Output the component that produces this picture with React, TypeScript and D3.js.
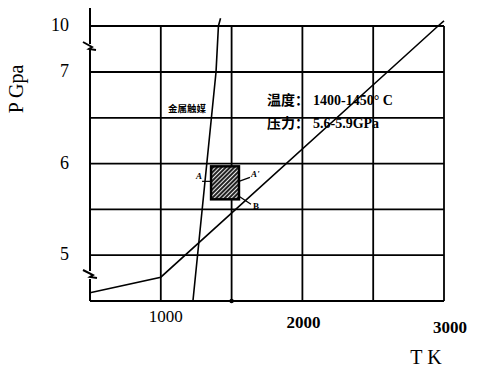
//@ts-nocheck
import * as d3 from "d3";

// grid values
const tGrid = [500, 1000, 1500, 2000, 2500, 3000];
const tLabels = [1000, 2000, 3000];
const pGrid = [4.5, 5, 5.5, 6, 6.5, 7, 10];
const pLabels = [5, 6, 7, 10];

// graphite–diamond equilibrium line (T K, P GPa)
const eqLine = [[500, 4.59], [1000, 4.76], [2600, 7.0], [2958, 10.0], [3000, 10.33]];
// metal catalyst melting line
const catalystLine = [[1227, 4.5], [1390, 7.0], [1407, 10.0], [1422, 10.5]];
// synthesis window
const boxT = [1355, 1552];
const boxP = [5.61, 5.97];

const W = 477;
const H = 371;

const App = () => {
  const x = d3.scaleLinear().domain([500, 3000]).range([90, 444]);
  // broken axis: 4.5..7 then jump to 10
  const y = d3.scaleLinear().domain([4.5, 7, 10]).range([301, 72, 26]);

  const line = d3.line().x(d => x(d[0])).y(d => y(d[1]));

  const bx0 = x(boxT[0]), bx1 = x(boxT[1]);
  const by0 = y(boxP[1]), by1 = y(boxP[0]);

  const serif = "Liberation Serif, DejaVu Serif, serif";
  const cjk = "Noto Sans CJK SC, sans-serif";

  return (
    <svg width={W} height={H} style={{ position: "absolute", left: 0, top: 0, background: "#fff" }}>
      <defs>
        <pattern id="hatch" width="3" height="3" patternUnits="userSpaceOnUse" patternTransform="rotate(45)">
          <rect width="3" height="3" fill="#222" />
          <line x1="0.5" y1="0" x2="0.5" y2="3" stroke="#fff" strokeWidth="0.9" />
        </pattern>
      </defs>

      {/* grid */}
      <g stroke="#000" strokeWidth={1.8}>
        {pGrid.map(p => (
          <line key={"p" + p} x1={x(500)} x2={x(3000)} y1={y(p)} y2={y(p)} />
        ))}
        {tGrid.slice(1).map(t => (
          <line key={"t" + t} x1={x(t)} x2={x(t)} y1={y(10)} y2={y(4.5)} />
        ))}
      </g>

      {/* left axis with break marks */}
      <path
        d={`M90,8 V44 M83,42 L92,47 L89,49 L96,50 M90,49 V271 M83,270 L93,275 L90,277 L97,278 M90,279 V301`}
        fill="none" stroke="#000" strokeWidth={2}
      />
      <circle cx={x(1500)} cy={y(4.5)} r={2.2} fill="#000" />

      {/* curves */}
      <path d={line(eqLine)} fill="none" stroke="#000" strokeWidth={1.6} />
      <path d={line(catalystLine)} fill="none" stroke="#000" strokeWidth={1.6} />

      {/* synthesis box */}
      <rect x={bx0} y={by0} width={bx1 - bx0} height={by1 - by0} fill="url(#hatch)" stroke="#000" strokeWidth={2.5} />
      <g stroke="#000" strokeWidth={1.2}>
        <line x1={bx0 - 9} y1={by0 + 15} x2={bx0} y2={by0 + 15} />
        <line x1={bx1} y1={by0 + 15} x2={bx1 + 11} y2={by0 + 11} />
        <line x1={bx1} y1={by1 - 3} x2={bx1 + 12} y2={by1 + 5} />
      </g>
      <g fontFamily={serif} fontSize={9} fontWeight="bold" fontStyle="italic">
        <text x={bx0 - 15} y={by0 + 13}>A</text>
        <text x={bx1 + 12} y={by0 + 11}>A'</text>
        <text x={bx1 + 14} y={by1 + 10} fontStyle="normal">B</text>
      </g>

      {/* annotations */}
      <text x={168} y={112} fontFamily={cjk} fontSize={9.5} fontWeight="bold">金属触媒</text>
      <text x={267} y={105} fontSize={14} fontWeight="bold">
        <tspan fontFamily={cjk}>温度：</tspan>
        <tspan x={313} fontFamily={serif}>1400-1450° C</tspan>
      </text>
      <text x={267} y={128} fontSize={14} fontWeight="bold">
        <tspan fontFamily={cjk}>压力：</tspan>
        <tspan x={313} fontFamily={serif}>5.6-5.9GPa</tspan>
      </text>

      {/* y tick labels */}
      <g fontFamily={serif} fontSize={18} textAnchor="end" dominantBaseline="middle">
        {pLabels.map(p => (
          <text key={p} x={69} y={y(p) + 1}>{p}</text>
        ))}
      </g>
      {/* x tick labels */}
      <g fontFamily={serif} fontSize={17} textAnchor="middle">
        {tLabels.map((t, i) => (
          <text key={t} x={x(t) + (i === 0 ? 5 : i === 1 ? 1 : 6)} y={322 + i * 5.5} fontWeight={i === 0 ? "normal" : "bold"}>{t}</text>
        ))}
      </g>

      {/* axis titles */}
      <text transform="translate(23,89) rotate(-90)" textAnchor="middle" fontFamily={serif} fontSize={20}>P  Gpa</text>
      <text x={426} y={364} textAnchor="middle" fontFamily={serif} fontSize={20}>T  K</text>
    </svg>
  );
};

export default App;
